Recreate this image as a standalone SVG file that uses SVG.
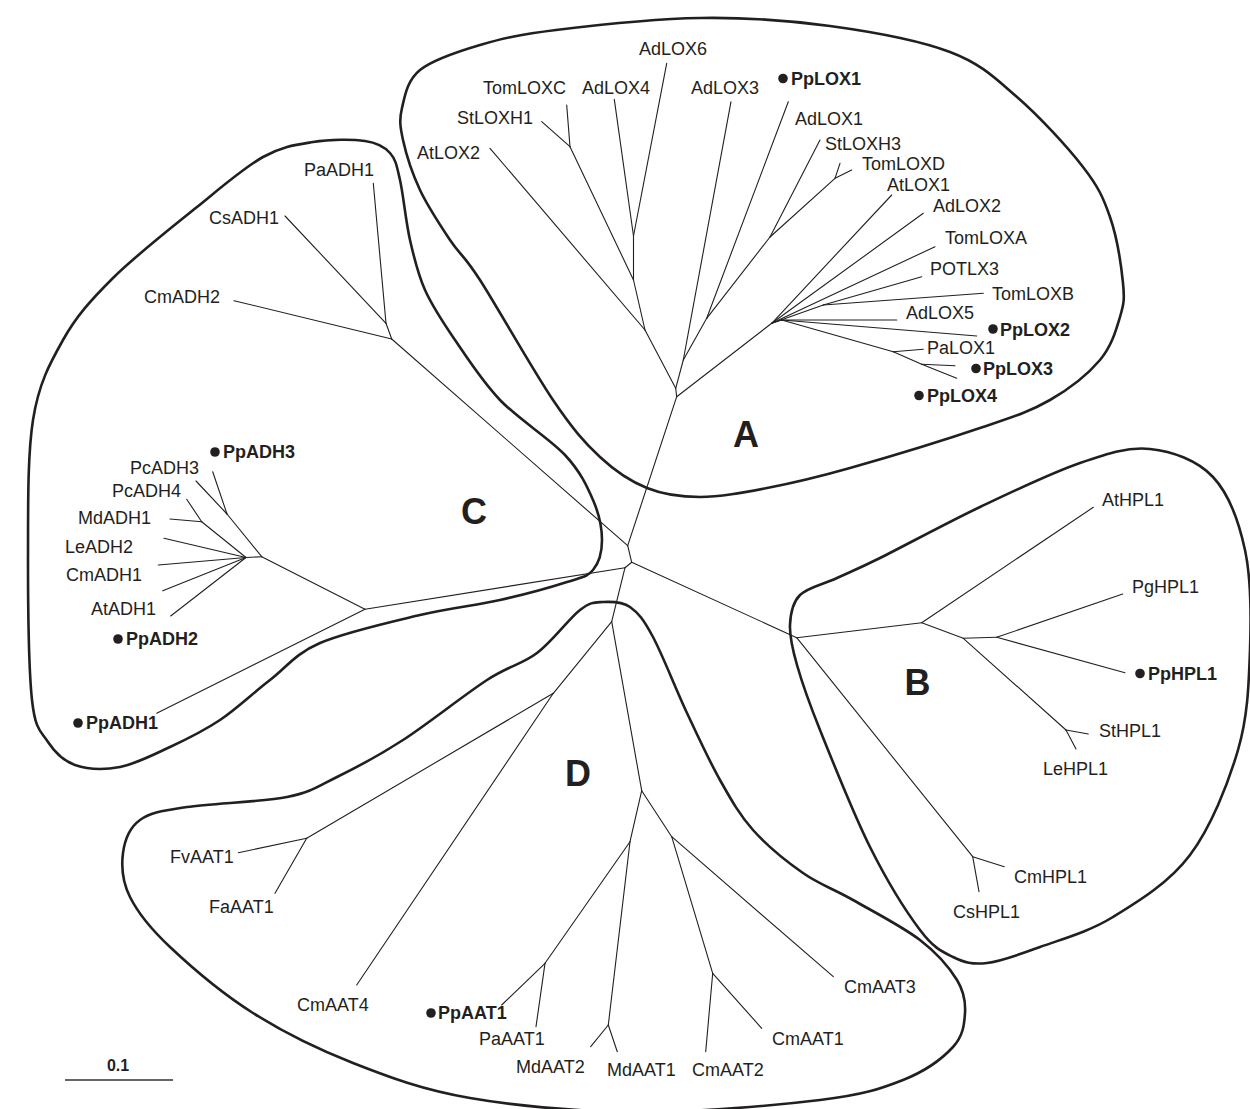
<svg xmlns="http://www.w3.org/2000/svg" width="1250" height="1109" viewBox="0 0 1250 1109">
<style>
.br{fill:none;stroke:#231f20;stroke-width:1.1;stroke-linecap:round;stroke-linejoin:round}
.ol{fill:none;stroke:#231f20;stroke-width:2.6}
.lb{font-family:"Liberation Sans",Arial,sans-serif;font-size:18px;fill:#231f20}
.bd{font-weight:bold}
.cl{font-family:"Liberation Sans",Arial,sans-serif;font-size:36px;font-weight:bold;fill:#231f20;text-anchor:middle}
.dot{fill:#231f20}
</style>
<rect width="1250" height="1109" fill="#fff"/>
<g id="outlines">
<path id="clade-A" class="ol" d="M 403,140 C 400,126.3 399.2,119.7 402,108 C 404.8,96.3 407,80.5 420,70 C 433,59.5 457.3,51.7 480,45 C 502.7,38.3 519.3,34.5 556,30 C 592.7,25.5 654.3,18.7 700,18 C 745.7,17.3 788.3,20.3 830,26 C 871.7,31.7 918.8,40.2 950,52 C 981.2,63.8 994.8,77.8 1017,97 C 1039.2,116.2 1067.5,147 1083,167 C 1098.5,187 1103.3,197.7 1110,217 C 1116.7,236.3 1121.3,266.3 1123,283 C 1124.7,299.7 1123.8,304.2 1120,317 C 1116.2,329.8 1111.7,346.2 1100,360 C 1088.3,373.8 1069.5,388.8 1050,400 C 1030.5,411.2 1016.3,415.7 983,427 C 949.7,438.3 886,457.8 850,468 C 814,478.2 792,483.2 767,488 C 742,492.8 720,497 700,497 C 680,497 663.7,494.7 647,488 C 630.3,481.3 615.7,471.7 600,457 C 584.3,442.3 573,429.5 553,400 C 533,370.5 497.2,306.7 480,280 C 462.8,253.3 460,255 450,240 C 440,225 427.8,206.7 420,190 C 412.2,173.3 406,153.7 403,140 Z"/>
<path id="clade-C" class="ol" d="M 28,560 C 28.2,513.3 27.2,456.7 33,420 C 38.8,383.3 49.7,363.7 63,340 C 76.3,316.3 90.7,300.2 113,278 C 135.3,255.8 172,227.2 197,207 C 222,186.8 243.7,167.8 263,157 C 282.3,146.2 296,144.7 313,142 C 330,139.3 352.2,139.2 365,141 C 377.8,142.8 384.2,146.5 390,153 C 395.8,159.5 396.7,165.5 400,180 C 403.3,194.5 405.8,221.7 410,240 C 414.2,258.3 417.5,273.3 425,290 C 432.5,306.7 442.5,321.7 455,340 C 467.5,358.3 481.7,380.8 500,400 C 518.3,419.2 549.5,438.3 565,455 C 580.5,471.7 586.8,485.8 593,500 C 599.2,514.2 602,528.3 602,540 C 602,551.7 598.8,563 593,570 C 587.2,577 582.5,577 567,582 C 551.5,587 524.5,594.5 500,600 C 475.5,605.5 450,607.8 420,615 C 390,622.2 345,632.2 320,643 C 295,653.8 286.7,667.2 270,680 C 253.3,692.8 236.7,708.8 220,720 C 203.3,731.2 186.7,739.2 170,747 C 153.3,754.8 135.8,764 120,767 C 104.2,770 87,769.2 75,765 C 63,760.8 55.2,752.8 48,742 C 40.8,731.2 35.3,730.3 32,700 C 28.7,669.7 28,606.7 28,560 Z"/>
<path id="clade-B" class="ol" d="M 790,625 C 790.5,613.3 792.2,602.8 800,595 C 807.8,587.2 823.7,584.2 837,578 C 850.3,571.8 856.2,569.8 880,558 C 903.8,546.2 946.7,522.8 980,507 C 1013.3,491.2 1051.7,472.7 1080,463 C 1108.3,453.3 1127.8,446.7 1150,449 C 1172.2,451.3 1197.2,460.2 1213,477 C 1228.8,493.8 1238.8,521.2 1245,550 C 1251.2,578.8 1251.2,616.7 1250,650 C 1248.8,683.3 1248,715.8 1238,750 C 1228,784.2 1210.8,827.2 1190,855 C 1169.2,882.8 1138,901.7 1113,917 C 1088,932.3 1061,939.3 1040,947 C 1019,954.7 1001.5,961.3 987,963 C 972.5,964.7 964.2,962.5 953,957 C 941.8,951.5 933.8,948.3 920,930 C 906.2,911.7 886.7,880.3 870,847 C 853.3,813.7 832.2,760.3 820,730 C 807.8,699.7 802,682.5 797,665 C 792,647.5 789.5,636.7 790,625 Z"/>
<path id="clade-D" class="ol" d="M 603,602 C 611.3,601.5 621.7,601.2 630,607 C 638.3,612.8 643.5,619.3 653,637 C 662.5,654.7 675.8,689.2 687,713 C 698.2,736.8 709,760.5 720,780 C 731,799.5 739.2,814.5 753,830 C 766.8,845.5 786.3,861.3 803,873 C 819.7,884.7 833.5,888.8 853,900 C 872.5,911.2 902.7,926.7 920,940 C 937.3,953.3 949.5,967.8 957,980 C 964.5,992.2 965.7,1001.8 965,1013 C 964.3,1024.2 963.3,1035.8 953,1047 C 942.7,1058.2 925.2,1071.2 903,1080 C 880.8,1088.8 863.8,1094.7 820,1100 C 776.2,1105.3 698.3,1112.3 640,1112 C 581.7,1111.7 517.8,1106.2 470,1098 C 422.2,1089.8 389.2,1077.2 353,1063 C 316.8,1048.8 283.5,1032.3 253,1013 C 222.5,993.7 190.5,966.3 170,947 C 149.5,927.7 137.8,912.7 130,897 C 122.2,881.3 121.3,865.8 123,853 C 124.7,840.2 129.3,827.7 140,820 C 150.7,812.3 162.5,810.8 187,807 C 211.5,803.2 262,802 287,797 C 312,792 317.7,786.5 337,777 C 356.3,767.5 378,756.2 403,740 C 428,723.8 464.7,694.5 487,680 C 509.3,665.5 521.5,664.7 537,653 C 552.5,641.3 569,618.5 580,610 C 591,601.5 594.7,602.5 603,602 Z"/>
</g>
<g id="connectors">
<path class="br" d="M627.7,545.7 L676.7,396.7"/>
<path class="br" d="M627.7,545.7 L391.7,339"/>
<path class="br" d="M627.7,545.7 L631.7,562.3"/>
<path class="br" d="M631.7,562.3 L796.7,637.7"/>
<path class="br" d="M631.7,562.3 L625,567.7"/>
<path class="br" d="M625,567.7 L365,609.3"/>
<path class="br" d="M625,567.7 L611.7,621.7"/>
<!-- clade A -->
<path class="br" d="M676.7,396.7 L675.7,388.3"/>
<path class="br" d="M676.7,396.7 L771.7,323.3"/>
<path class="br" d="M675.7,388.3 L645,330"/>
<path class="br" d="M675.7,388.3 L683.3,360"/>
<path class="br" d="M645,330 L490,148.3"/>
<path class="br" d="M645,330 L633.5,280"/>
<path class="br" d="M633.5,280 L633.5,236"/>
<path class="br" d="M633.5,236 L614.3,99.3"/>
<path class="br" d="M633.5,236 L666.7,63.3"/>
<path class="br" d="M633.5,280 L570,146.7"/>
<path class="br" d="M570,146.7 L541.7,121.7"/>
<path class="br" d="M570,146.7 L566.7,105"/>
<path class="br" d="M683.3,360 L731,101.7"/>
<path class="br" d="M683.3,360 L706.7,318.3"/>
<path class="br" d="M706.7,318.3 L788.3,101.7"/>
<path class="br" d="M706.7,318.3 L770,237"/>
<path class="br" d="M770,237 L820,140"/>
<path class="br" d="M770,237 L835,178.3"/>
<path class="br" d="M835,178.3 L840,163.3"/>
<path class="br" d="M835,178.3 L851.7,170"/>
<path class="br" d="M771.7,323.3 L891.7,195"/>
<path class="br" d="M771.7,323.3 L923.3,213.3"/>
<path class="br" d="M771.7,323.3 L935,246.7"/>
<path class="br" d="M771.7,323.3 L823.3,305"/>
<path class="br" d="M823.3,305 L921.7,276.7"/>
<path class="br" d="M823.3,305 L983.3,293.3"/>
<path class="br" d="M771.7,323.3 L781.7,320"/>
<path class="br" d="M781.7,320 L896.7,320"/>
<path class="br" d="M781.7,320 L976.7,336"/>
<path class="br" d="M781.7,320 L893.3,351.7"/>
<path class="br" d="M893.3,351.7 L923.3,349.3"/>
<path class="br" d="M893.3,351.7 L921.7,364.3"/>
<path class="br" d="M921.7,364.3 L955,365.7"/>
<path class="br" d="M921.7,364.3 L956.7,378.3"/>
<!-- clade C -->
<path class="br" d="M391.7,339 L386,323.3"/>
<path class="br" d="M386,323.3 L373.3,183.3"/>
<path class="br" d="M386,323.3 L285,216"/>
<path class="br" d="M391.7,339 L234,300.7"/>
<path class="br" d="M365,609.3 L156.7,713.3"/>
<path class="br" d="M365,609.3 L261.7,556.7"/>
<path class="br" d="M261.7,556.7 L227,514"/>
<path class="br" d="M227,514 L212.7,471.7"/>
<path class="br" d="M227,514 L196,481"/>
<path class="br" d="M261.7,556.7 L246,557.5"/>
<path class="br" d="M246,557.5 L201.7,521.7"/>
<path class="br" d="M201.7,521.7 L186.7,499.3"/>
<path class="br" d="M201.7,521.7 L170,519"/>
<path class="br" d="M246,557.5 L164,538.3"/>
<path class="br" d="M246,557.5 L158.3,565"/>
<path class="br" d="M246,557.5 L162.7,590.7"/>
<path class="br" d="M246,557.5 L170.7,616"/>
<!-- clade B -->
<path class="br" d="M796.7,637.7 L921.7,622.7"/>
<path class="br" d="M921.7,622.7 L1093.3,507.3"/>
<path class="br" d="M921.7,622.7 L963.3,638.3"/>
<path class="br" d="M963.3,638.3 L996.7,637.3"/>
<path class="br" d="M996.7,637.3 L1122.7,594"/>
<path class="br" d="M996.7,637.3 L1125,672.7"/>
<path class="br" d="M963.3,638.3 L1066,730"/>
<path class="br" d="M1066,730 L1088.3,734"/>
<path class="br" d="M1066,730 L1076,749"/>
<path class="br" d="M796.7,637.7 L972.7,856.7"/>
<path class="br" d="M972.7,856.7 L1004.3,866.7"/>
<path class="br" d="M972.7,856.7 L979,891.7"/>
<!-- clade D -->
<path class="br" d="M611.7,621.7 L553.3,693.3"/>
<path class="br" d="M553.3,693.3 L306.7,838.3"/>
<path class="br" d="M306.7,838.3 L238.3,852.7"/>
<path class="br" d="M306.7,838.3 L275,893.3"/>
<path class="br" d="M553.3,693.3 L356.7,985"/>
<path class="br" d="M611.7,621.7 L641.7,790.7"/>
<path class="br" d="M641.7,790.7 L630,841.7"/>
<path class="br" d="M630,841.7 L545,963.3"/>
<path class="br" d="M545,963.3 L501.7,1005"/>
<path class="br" d="M545,963.3 L536,1026.7"/>
<path class="br" d="M630,841.7 L608.3,1025"/>
<path class="br" d="M608.3,1025 L590.7,1046.7"/>
<path class="br" d="M608.3,1025 L617.3,1051.7"/>
<path class="br" d="M641.7,790.7 L671.7,836.7"/>
<path class="br" d="M671.7,836.7 L833.3,976.7"/>
<path class="br" d="M671.7,836.7 L712.7,973.3"/>
<path class="br" d="M712.7,973.3 L761.7,1028.3"/>
<path class="br" d="M712.7,973.3 L705.7,1051.7"/>
</g>
<g id="clade-labels">
<text class="cl" x="746" y="447">A</text>
<text class="cl" x="917.5" y="695">B</text>
<text class="cl" x="474" y="524">C</text>
<text class="cl" x="578" y="786">D</text>
</g>
<g id="n-AdLOX6"><text class="lb" x="639" y="55">AdLOX6</text></g>
<g id="n-TomLOXC"><text class="lb" x="483" y="94">TomLOXC</text></g>
<g id="n-AdLOX4"><text class="lb" x="582" y="94">AdLOX4</text></g>
<g id="n-AdLOX3"><text class="lb" x="691" y="94">AdLOX3</text></g>
<g id="n-PpLOX1"><circle class="dot" cx="783" cy="78.5" r="4.8"/><text class="lb bd" x="791" y="85">PpLOX1</text></g>
<g id="n-StLOXH1"><text class="lb" x="457" y="124">StLOXH1</text></g>
<g id="n-AtLOX2"><text class="lb" x="417" y="159">AtLOX2</text></g>
<g id="n-AdLOX1"><text class="lb" x="795" y="125">AdLOX1</text></g>
<g id="n-StLOXH3"><text class="lb" x="825" y="150">StLOXH3</text></g>
<g id="n-TomLOXD"><text class="lb" x="862" y="170">TomLOXD</text></g>
<g id="n-AtLOX1"><text class="lb" x="887" y="191">AtLOX1</text></g>
<g id="n-AdLOX2"><text class="lb" x="933" y="212">AdLOX2</text></g>
<g id="n-TomLOXA"><text class="lb" x="945" y="244">TomLOXA</text></g>
<g id="n-POTLX3"><text class="lb" x="930" y="275">POTLX3</text></g>
<g id="n-TomLOXB"><text class="lb" x="992" y="300">TomLOXB</text></g>
<g id="n-AdLOX5"><text class="lb" x="906" y="319">AdLOX5</text></g>
<g id="n-PpLOX2"><circle class="dot" cx="993" cy="329" r="4.8"/><text class="lb bd" x="1000" y="336">PpLOX2</text></g>
<g id="n-PaLOX1"><text class="lb" x="927" y="354">PaLOX1</text></g>
<g id="n-PpLOX3"><circle class="dot" cx="976" cy="368.5" r="4.8"/><text class="lb bd" x="983" y="375">PpLOX3</text></g>
<g id="n-PpLOX4"><circle class="dot" cx="919" cy="395.5" r="4.8"/><text class="lb bd" x="927" y="402">PpLOX4</text></g>
<g id="n-PaADH1"><text class="lb" x="304" y="176">PaADH1</text></g>
<g id="n-CsADH1"><text class="lb" x="209" y="224">CsADH1</text></g>
<g id="n-CmADH2"><text class="lb" x="144" y="303">CmADH2</text></g>
<g id="n-PpADH3"><circle class="dot" cx="215" cy="452" r="4.8"/><text class="lb bd" x="223" y="458">PpADH3</text></g>
<g id="n-PcADH3"><text class="lb" x="130" y="474">PcADH3</text></g>
<g id="n-PcADH4"><text class="lb" x="112" y="497">PcADH4</text></g>
<g id="n-MdADH1"><text class="lb" x="78" y="524">MdADH1</text></g>
<g id="n-LeADH2"><text class="lb" x="65" y="553">LeADH2</text></g>
<g id="n-CmADH1"><text class="lb" x="66" y="581">CmADH1</text></g>
<g id="n-AtADH1"><text class="lb" x="91" y="615">AtADH1</text></g>
<g id="n-PpADH2"><circle class="dot" cx="118" cy="639" r="4.8"/><text class="lb bd" x="126" y="645">PpADH2</text></g>
<g id="n-PpADH1"><circle class="dot" cx="78" cy="723" r="4.8"/><text class="lb bd" x="86" y="729">PpADH1</text></g>
<g id="n-AtHPL1"><text class="lb" x="1102" y="506">AtHPL1</text></g>
<g id="n-PgHPL1"><text class="lb" x="1132" y="593">PgHPL1</text></g>
<g id="n-PpHPL1"><circle class="dot" cx="1140" cy="673.5" r="4.8"/><text class="lb bd" x="1148" y="680">PpHPL1</text></g>
<g id="n-StHPL1"><text class="lb" x="1099" y="737">StHPL1</text></g>
<g id="n-LeHPL1"><text class="lb" x="1043" y="775">LeHPL1</text></g>
<g id="n-CmHPL1"><text class="lb" x="1014" y="883">CmHPL1</text></g>
<g id="n-CsHPL1"><text class="lb" x="953" y="918">CsHPL1</text></g>
<g id="n-FvAAT1"><text class="lb" x="170" y="863">FvAAT1</text></g>
<g id="n-FaAAT1"><text class="lb" x="209" y="913">FaAAT1</text></g>
<g id="n-CmAAT4"><text class="lb" x="297" y="1011">CmAAT4</text></g>
<g id="n-PpAAT1"><circle class="dot" cx="431" cy="1013" r="4.8"/><text class="lb bd" x="438" y="1019">PpAAT1</text></g>
<g id="n-PaAAT1"><text class="lb" x="479" y="1045">PaAAT1</text></g>
<g id="n-MdAAT2"><text class="lb" x="516" y="1073">MdAAT2</text></g>
<g id="n-MdAAT1"><text class="lb" x="607" y="1076">MdAAT1</text></g>
<g id="n-CmAAT2"><text class="lb" x="692" y="1076">CmAAT2</text></g>
<g id="n-CmAAT1"><text class="lb" x="772" y="1045">CmAAT1</text></g>
<g id="n-CmAAT3"><text class="lb" x="844" y="993">CmAAT3</text></g>
<g id="scale">
<text x="118" y="1071" text-anchor="middle" style="font-family:'Liberation Sans',Arial,sans-serif;font-size:16px;font-weight:bold;fill:#231f20">0.1</text>
<line x1="65" y1="1080" x2="173" y2="1080" stroke="#333" stroke-width="1.4"/>
</g>
</svg>
